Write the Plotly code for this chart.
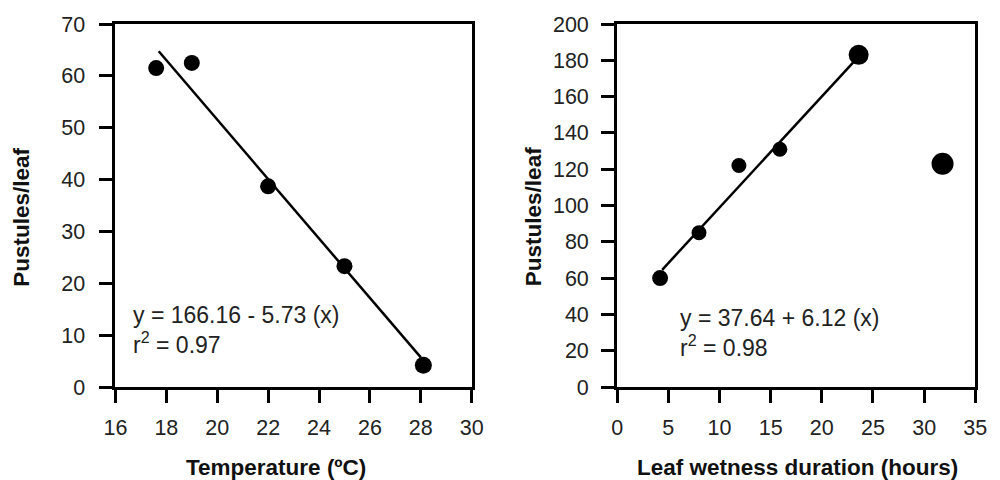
import plotly.graph_objects as go

# Left panel data
temp_x = [17.6, 19.0, 22.0, 25.0, 28.1]
temp_y = [61.5, 62.5, 38.7, 23.3, 4.2]
temp_sizes = [16, 16, 16, 16, 17]
temp_line_x = [17.7, 28.0]
temp_intercept, temp_slope = 166.16, -5.73

# Right panel data
wet_x = [4.2, 8.0, 11.9, 15.9, 23.6, 31.8]
wet_y = [60, 85, 122, 131, 183, 123]
wet_sizes = [16, 15, 15, 15, 20, 22]
wet_line_x = [4.4, 23.3]
wet_intercept, wet_slope = 37.64, 6.12

left_xticks = [16, 18, 20, 22, 24, 26, 28, 30]
left_yticks = [0, 10, 20, 30, 40, 50, 60, 70]
right_xticks = [0, 5, 10, 15, 20, 25, 30, 35]
right_yticks = list(range(0, 201, 20))

FONT = "Liberation Sans, Arial, Helvetica, sans-serif"
W, H = 1000, 480
T, B = 24, 93
PH = H - T - B

fig = go.Figure()
fig.add_trace(go.Scatter(x=temp_line_x, y=[temp_intercept + temp_slope * v for v in temp_line_x],
                         mode="lines", line=dict(color="black", width=2.5), xaxis="x", yaxis="y", showlegend=False))
fig.add_trace(go.Scatter(x=temp_x, y=temp_y, mode="markers",
                         marker=dict(color="black", size=temp_sizes, opacity=1, line=dict(width=0)),
                         xaxis="x", yaxis="y", showlegend=False))
fig.add_trace(go.Scatter(x=wet_line_x, y=[wet_intercept + wet_slope * v for v in wet_line_x],
                         mode="lines", line=dict(color="black", width=2.5), xaxis="x2", yaxis="y2", showlegend=False))
fig.add_trace(go.Scatter(x=wet_x, y=wet_y, mode="markers",
                         marker=dict(color="black", size=wet_sizes, opacity=1, line=dict(width=0)),
                         xaxis="x2", yaxis="y2", showlegend=False))

axis_common = dict(showgrid=False, zeroline=False, showline=True, linecolor="black", linewidth=3,
                   mirror=True, ticks="outside", ticklen=13, tickwidth=2.5, tickcolor="black",
                   tickfont=dict(family=FONT, size=21.5, color="#222"))

fig.update_layout(
    width=W, height=H, margin=dict(l=0, r=0, t=T, b=B),
    paper_bgcolor="white", plot_bgcolor="white",
    xaxis=dict(domain=[0.106, 0.471], range=[16, 30], tickvals=left_xticks, anchor="y",
               ticklabelstandoff=6, **axis_common),
    yaxis=dict(domain=[0, 1], range=[0, 70], tickvals=left_yticks, anchor="x",
               ticklabelstandoff=10, **axis_common),
    xaxis2=dict(domain=[0.620, 0.987], range=[0, 35], tickvals=right_xticks, anchor="y2",
                ticklabelstandoff=6, **axis_common),
    yaxis2=dict(domain=[0, 1], range=[0, 200], tickvals=right_yticks, anchor="x2",
                ticklabelstandoff=8, **axis_common),
)


def py(pix):
    return (H - B - pix) / PH


title_font = dict(family=FONT, size=22.5, color="#111")
annos = [
    dict(text="<b>Pustules/leaf</b>", x=10 / W, y=py(217), textangle=-90),
    dict(text="<b>Pustules/leaf</b>", x=535 / W, y=py(217), textangle=-90),
    dict(text="<b>Temperature (ºC)</b>", x=271 / W, y=py(467)),
    dict(text="<b>Leaf wetness duration (hours)</b>", x=805 / W, y=py(467)),
]
for a in annos:
    fig.add_annotation(xref="paper", yref="paper", showarrow=False, xanchor="center", yanchor="middle",
                       font=title_font, **a)

eq_font = dict(family=FONT, size=23, color="#222")
fig.add_annotation(xref="x", yref="y", x=16.6, y=11.0, xanchor="left", yanchor="middle", showarrow=False,
                   align="left", font=eq_font,
                   text="y = 166.16 - 5.73 (x)<br>r<sup>2</sup> = 0.97")
fig.add_annotation(xref="x2", yref="y2", x=5.9, y=29.5, xanchor="left", yanchor="middle", showarrow=False,
                   align="left", font=eq_font,
                   text="y = 37.64 + 6.12 (x)<br>r<sup>2</sup> = 0.98")

fig.write_html("out.html")
